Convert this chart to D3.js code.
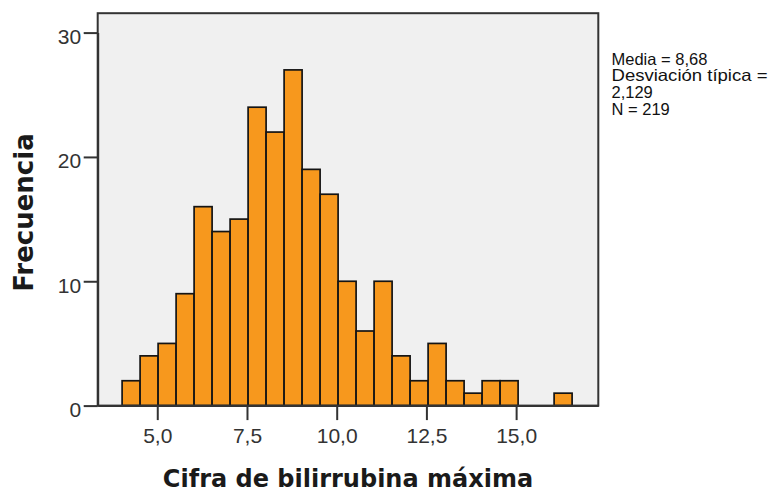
<!DOCTYPE html>
<html>
<head>
<meta charset="utf-8">
<script src="https://cdn.jsdelivr.net/npm/d3@7"></script>
<style>
  html, body { margin: 0; padding: 0; background: #ffffff; }
  svg { display: block; }
</style>
</head>
<body>
<svg id="chart" width="773" height="492"></svg>
<script>
// Histogram of maximum bilirubin values (frequency per bin)
const binStart = 4.02;
const binWidth = 0.5016;
const binCounts = [2, 4, 5, 9, 16, 14, 15, 24, 22, 27, 19, 17, 10, 6, 10, 4, 2, 5, 2, 1, 2, 2, 0, 0, 1];

const xTickValues = [5.0, 7.5, 10.0, 12.5, 15.0];
const xTickLabels = ["5,0", "7,5", "10,0", "12,5", "15,0"];
const yTickValues = [0, 10, 20, 30];
const yTickLabels = ["0", "10", "20", "30"];

const statsLines = ["Media = 8,68", "Desviación típica =", "2,129", "N = 219"];
const xTitle = "Cifra de bilirrubina máxima";
const yTitle = "Frecuencia";

const svg = d3.select("#chart");

const plot = { left: 97.7, top: 13.2, right: 598.3, bottom: 405.6 };

const x = d3.scaleLinear().domain([3.34, 17.29]).range([plot.left, plot.right]);
const y = d3.scaleLinear().domain([0, 30]).range([plot.bottom, 32.6]);

const bins = binCounts.map((c, i) => ({
  x0: binStart + i * binWidth,
  x1: binStart + (i + 1) * binWidth,
  count: c
}));

// plot background
svg.append("rect")
  .attr("x", plot.left)
  .attr("y", plot.top)
  .attr("width", plot.right - plot.left)
  .attr("height", plot.bottom - plot.top)
  .attr("fill", "#f0f0f0");

// bars
svg.append("g")
  .selectAll("rect")
  .data(bins.filter(d => d.count > 0))
  .join("rect")
  .attr("x", d => x(d.x0))
  .attr("y", d => y(d.count))
  .attr("width", d => x(d.x1) - x(d.x0))
  .attr("height", d => y(0) - y(d.count))
  .attr("fill", "#f7981d")
  .attr("stroke", "#141414")
  .attr("stroke-width", 1.7);

// frame
svg.append("rect")
  .attr("x", plot.left)
  .attr("y", plot.top)
  .attr("width", plot.right - plot.left)
  .attr("height", plot.bottom - plot.top)
  .attr("fill", "none")
  .attr("stroke", "#333333")
  .attr("stroke-width", 2);

const axisColor = "#333333";
const tickFont = "'Liberation Sans', Arial, sans-serif";

// y axis
const yAxis = svg.append("g")
  .attr("transform", `translate(${plot.left},0)`)
  .call(d3.axisLeft(y)
    .tickValues(yTickValues)
    .tickFormat((d, i) => yTickLabels[i])
    .tickSizeInner(14)
    .tickSizeOuter(0)
    .tickPadding(2.5));
yAxis.select(".domain").attr("stroke", axisColor).attr("stroke-width", 2);
yAxis.selectAll(".tick line").attr("stroke", axisColor).attr("stroke-width", 2);
yAxis.selectAll(".tick text")
  .attr("fill", "#333333")
  .attr("font-family", tickFont)
  .attr("font-size", 21)
  .attr("dy", "0.52em");

// x axis
const xAxis = svg.append("g")
  .attr("transform", `translate(0,${plot.bottom})`)
  .call(d3.axisBottom(x)
    .tickValues(xTickValues)
    .tickFormat((d, i) => xTickLabels[i])
    .tickSizeInner(14.5)
    .tickSizeOuter(0)
    .tickPadding(7.5));
xAxis.select(".domain").attr("stroke", axisColor).attr("stroke-width", 2);
xAxis.selectAll(".tick line").attr("stroke", axisColor).attr("stroke-width", 2);
xAxis.selectAll(".tick text")
  .attr("fill", "#333333")
  .attr("font-family", tickFont)
  .attr("font-size", 21)
  .attr("dy", "0.71em");

// axis titles
svg.append("text")
  .attr("x", (plot.left + plot.right) / 2)
  .attr("y", 486.5)
  .attr("text-anchor", "middle")
  .attr("font-family", "'DejaVu Sans', sans-serif")
  .attr("font-weight", "bold")
  .attr("font-size", 24)
  .attr("fill", "#1a1a1a")
  .text(xTitle);

svg.append("text")
  .attr("transform", "translate(33,212.5) rotate(-90)")
  .attr("text-anchor", "middle")
  .attr("font-family", "'DejaVu Sans', sans-serif")
  .attr("font-weight", "bold")
  .attr("font-size", 26)
  .attr("fill", "#1a1a1a")
  .text(yTitle);

// summary statistics
const statsWidths = [null, 156, null, null];
svg.append("g")
  .selectAll("text")
  .data(statsLines)
  .join("text")
  .attr("x", 611.5)
  .attr("y", (d, i) => 64.5 + i * 16.7)
  .attr("font-family", "'Liberation Sans', Arial, sans-serif")
  .attr("font-size", 16.5)
  .attr("fill", "#111111")
  .attr("textLength", (d, i) => statsWidths[i])
  .attr("lengthAdjust", "spacingAndGlyphs")
  .text(d => d);
</script>
</body>
</html>
